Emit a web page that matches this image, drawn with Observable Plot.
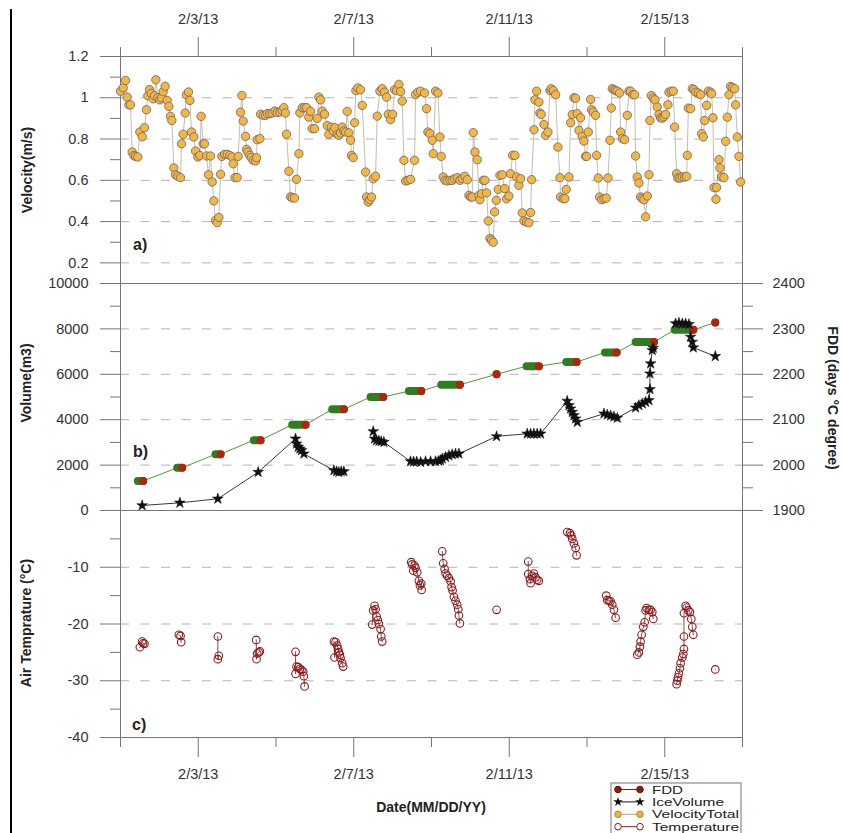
<!DOCTYPE html>
<html><head><meta charset="utf-8">
<script src="https://cdn.jsdelivr.net/npm/d3@7"></script>
<script src="https://cdn.jsdelivr.net/npm/@observablehq/plot@0.6"></script>
<style>
body{margin:0;background:#fff;font-family:"Liberation Sans",Arial,sans-serif;}
#wrap{position:relative;width:842px;height:833px;overflow:hidden;background:#fff;}
.panel{position:absolute;left:0;}
.panel svg{overflow:visible;display:block;}
.lbl{position:absolute;font-weight:bold;font-size:14px;color:#222;white-space:nowrap;transform:translate(-50%,-50%);}
.pl{position:absolute;font-weight:bold;font-size:16px;color:#222;transform:translateY(-50%);}
</style></head><body><div id="wrap"></div>
<script>
// ---------- data (days = fractional day of February 2013) ----------
const velocityDays = [
1.000,1.069,1.129,1.172,1.214,1.257,1.300,1.343,1.386,1.446,
1.497,1.557,1.617,1.669,1.703,1.746,1.789,1.840,1.875,1.909,
1.961,2.012,2.055,2.098,2.149,2.201,2.244,2.286,2.321,2.372,
2.415,2.475,2.544,2.569,2.612,2.664,2.698,2.750,2.784,2.827,
2.887,2.930,2.990,3.041,3.075,3.127,3.161,3.213,3.264,3.316,
3.358,3.401,3.444,3.487,3.530,3.573,3.607,3.676,3.744,3.813,
3.873,3.899,3.942,4.002,4.027,4.087,4.122,4.156,4.216,4.242,
4.276,4.328,4.362,4.413,4.473,4.499,4.516,4.585,4.602,4.671,
4.731,4.774,4.842,4.902,4.971,5.031,5.099,5.159,5.202,5.245,
5.271,5.331,5.374,5.417,5.477,5.528,5.588,5.614,5.674,5.734,
5.786,5.846,5.889,5.931,5.991,6.060,6.103,6.146,6.189,6.249,
6.317,6.360,6.420,6.472,6.515,6.575,6.618,6.660,6.703,6.746,
6.789,6.832,6.875,6.918,6.943,6.986,7.021,7.055,7.106,7.175,
7.218,7.304,7.329,7.372,7.415,7.458,7.501,7.561,7.604,7.673,
7.732,7.792,7.844,7.887,7.947,7.998,8.050,8.101,8.161,8.204,
8.247,8.290,8.333,8.393,8.461,8.564,8.590,8.650,8.719,8.822,
8.873,8.907,8.959,9.019,9.045,9.105,9.165,9.216,9.250,9.302,
9.345,9.405,9.473,9.533,9.593,9.662,9.731,9.791,9.859,9.919,
9.962,10.005,10.048,10.074,10.117,10.177,10.220,10.245,10.288,10.331,
10.374,10.417,10.460,10.503,10.546,10.588,10.623,10.666,10.717,10.760,
10.820,10.880,10.931,10.991,11.034,11.086,11.146,11.189,11.249,11.292,
11.335,11.377,11.446,11.506,11.549,11.575,11.635,11.660,11.703,11.763,
11.789,11.823,11.892,11.935,11.995,12.046,12.081,12.132,12.192,12.252,
12.304,12.321,12.389,12.432,12.467,12.535,12.578,12.621,12.664,12.707,
12.750,12.793,12.835,12.878,12.921,12.964,12.990,13.033,13.093,13.118,
13.161,13.221,13.247,13.290,13.324,13.376,13.436,13.496,13.539,13.590,
13.624,13.650,13.693,13.736,13.779,13.839,13.865,13.907,13.967,14.036,
14.079,14.122,14.182,14.225,14.250,14.293,14.336,14.379,14.422,14.465,
14.508,14.551,14.593,14.619,14.653,14.705,14.748,14.808,14.851,14.894,
14.937,14.979,15.022,15.082,15.108,15.168,15.220,15.254,15.305,15.340,
15.391,15.451,15.511,15.563,15.580,15.606,15.666,15.709,15.752,15.795,
15.863,15.923,15.949,15.992,16.026,16.078,16.121,16.181,16.206,16.240,
16.266,16.317,16.334,16.395,16.420,16.463,16.523,16.566,16.609,16.652,
16.695,16.738,16.798,16.823,16.866,16.909,16.952];
const velocityValues = [
1.032,1.048,1.084,1.003,0.966,0.966,0.737,0.720,0.716,0.713,
0.834,0.811,0.855,0.942,1.010,1.040,1.021,0.995,1.010,1.087,
1.000,0.990,1.000,1.030,1.056,0.987,0.958,0.910,0.890,0.660,
0.627,0.620,0.613,0.777,0.823,0.926,1.015,1.028,0.987,0.834,
0.810,0.742,0.713,0.720,0.910,0.777,0.777,0.718,0.627,0.718,
0.592,0.500,0.406,0.395,0.420,0.629,0.716,0.726,0.726,0.721,
0.713,0.680,0.613,0.613,0.716,0.930,1.011,0.887,0.813,0.750,
0.737,0.721,0.710,0.697,0.694,0.710,0.797,0.802,0.920,0.915,
0.915,0.923,0.923,0.926,0.936,0.929,0.931,0.939,0.952,0.926,
0.823,0.644,0.520,0.515,0.514,0.605,0.729,0.927,0.952,0.952,
0.952,0.906,0.934,0.850,0.850,0.900,1.003,0.990,0.935,0.920,
0.865,0.823,0.858,0.839,0.855,0.823,0.818,0.829,0.858,0.839,
0.834,0.934,0.830,0.794,0.720,0.710,0.879,1.035,1.048,1.039,
0.963,0.640,0.519,0.495,0.506,0.519,0.608,0.620,0.911,1.032,
1.044,1.027,1.003,0.920,0.894,0.920,1.039,1.035,1.065,1.030,
0.984,0.697,0.597,0.600,0.605,0.697,1.016,1.027,1.032,1.023,
0.947,0.834,0.826,0.794,0.729,1.032,1.023,0.810,0.716,0.616,
0.600,0.597,0.600,0.600,0.608,0.613,0.600,0.608,0.620,0.603,
0.527,0.519,0.519,0.831,0.737,0.700,0.527,0.506,0.535,0.600,
0.600,0.539,0.403,0.318,0.310,0.300,0.447,0.503,0.556,0.624,
0.627,0.560,0.510,0.524,0.632,0.721,0.721,0.616,0.576,0.608,
0.442,0.403,0.398,0.394,0.444,0.603,0.845,0.990,1.032,0.979,
0.926,0.919,0.871,0.818,0.834,1.035,1.044,1.035,1.015,0.761,
0.613,0.519,0.511,0.511,0.556,0.616,0.879,0.919,1.000,0.998,
0.923,0.842,0.903,0.813,0.790,0.716,0.716,0.834,0.992,0.942,
0.931,0.915,0.721,0.611,0.519,0.506,0.511,0.514,0.611,0.794,
0.950,1.044,1.039,1.035,1.032,1.023,0.834,0.802,0.797,0.915,
1.032,1.032,1.015,1.015,0.718,0.616,0.587,0.519,0.511,0.506,
0.423,0.524,0.627,0.890,1.011,0.998,0.990,0.955,0.919,0.903,
0.901,0.908,0.919,0.966,1.027,1.032,1.032,0.858,0.632,0.611,
0.611,0.616,0.616,0.619,0.721,0.950,0.947,1.044,1.039,1.027,
1.023,1.015,0.826,0.810,0.890,0.963,1.032,1.027,1.019,0.903,
0.565,0.508,0.565,0.700,0.660,0.616,0.613,0.789,0.906,1.015,
1.055,1.050,1.044,0.966,0.810,0.716,0.592];

// FDD clusters (start day, end day, FDD value)
const fddStart  = [1.446,2.458,3.444,4.430,5.417,6.446,7.432,8.418,9.250,10.674,11.446,12.467,13.461,14.250,15.254,16.300];
const fddEnd    = [1.583,2.586,3.573,4.602,5.760,6.746,7.758,8.736,9.731,10.674,11.763,12.732,13.761,14.722,15.734,16.300];
const fddValues = [1965,1994,2024,2055,2089,2123,2150,2163,2177,2200,2218,2227,2248,2271,2298,2314];

// Ice volume (null = gap in the record)
const iceDays = [1.557,2.527,3.504,4.542,5.503,5.528,5.571,5.614,5.657,5.717,6.489,6.557,6.618,6.678,6.746,null,
7.501,7.535,7.587,7.647,7.707,7.775,8.461,8.540,8.620,8.720,8.847,8.976,9.105,9.190,9.233,9.276,9.362,9.448,9.533,9.619,9.705,
10.674,11.463,11.549,11.635,11.720,11.806,12.490,12.535,12.578,12.621,12.664,12.707,12.750,13.436,13.521,13.607,13.693,13.779,
14.250,14.336,14.422,14.508,14.593,14.619,14.619,14.636,14.679,14.705,null,
15.279,15.365,15.451,15.537,15.623,15.666,15.709,15.734,16.300];
const iceValues = [221,338,515,1691,3162,2941,2800,2721,2650,2500,1765,1720,1690,1720,1720,null,
3485,3162,3088,3060,3044,3015,2162,2150,2150,2132,2162,2162,2162,2180,2206,2280,2353,2420,2471,2500,2500,
3265,3382,3382,3382,3382,3382,4824,4632,4485,4338,4191,4044,3897,4265,4220,4176,4132,4074,
4529,4632,4706,4780,4853,5338,6029,6470,7059,7162,null,
8235,8265,8235,8235,8206,7647,7426,7176,6794];

// Air temperature (null = gap)
const tempDays = [
1.497,1.557,1.583,1.617,null,
2.501,2.544,2.561,null,
3.504,3.504,3.530,null,
4.491,4.499,4.516,4.559,4.585,null,
5.503,5.503,5.528,5.571,5.614,5.657,5.700,5.717,5.734,null,
6.489,6.506,6.532,6.575,6.600,6.618,6.643,6.660,6.703,6.729,null,
7.475,7.501,7.535,7.561,7.587,7.621,7.647,7.690,7.707,7.732,null,
8.479,8.505,8.530,8.564,8.590,8.633,8.676,8.702,8.736,8.745,null,
9.276,9.302,9.336,9.362,9.405,9.448,9.491,9.516,9.542,9.576,9.619,9.662,9.688,9.705,9.731,null,
10.674,null,
11.489,11.489,11.532,11.549,11.592,11.635,11.678,11.720,11.763,null,
12.492,12.561,12.595,12.621,12.664,12.707,12.732,null,
13.496,13.521,13.564,13.607,13.650,13.693,13.736,null,
14.293,14.336,14.362,14.379,14.405,14.448,14.482,14.508,14.534,14.593,14.636,14.679,14.705,null,
15.305,15.322,15.340,15.365,15.391,15.408,15.451,15.477,15.494,15.494,15.494,15.537,15.563,15.606,15.649,15.683,15.709,15.734,null,
16.300];
const tempValues = [
-24.1,-23.1,-23.4,-23.5,null,
-21.9,-22.1,-23.2,null,
-22.2,-26.2,-25.6,null,
-22.8,-26.2,-25.2,-25.0,-24.8,null,
-24.9,-28.8,-27.5,-27.6,-27.9,-28.1,-28.4,-29.2,-31.0,null,
-23.1,-25.9,-23.2,-23.8,-24.4,-25.0,-25.4,-26.0,-26.9,-27.5,null,
-20.1,-17.6,-16.8,-17.4,-18.7,-19.3,-20.0,-20.9,-22.2,-23.1,null,
-9.1,-9.5,-10.6,-9.7,-10.1,-10.9,-12.4,-13.2,-12.9,-14.0,null,
-7.2,-9.3,-10.3,-11.1,-11.5,-11.9,-12.5,-13.5,-14.1,-15.2,-15.9,-16.6,-17.4,-18.5,-19.9,null,
-17.5,null,
-9.0,-11.2,-12.1,-12.8,-11.5,-11.1,-11.8,-12.2,-12.4,null,
-3.8,-4.0,-4.4,-5.0,-5.8,-6.6,-7.9,null,
-15.0,-15.8,-15.9,-16.0,-16.6,-17.5,-18.9,null,
-25.4,-25.0,-24.0,-23.1,-21.9,-20.5,-19.7,-17.6,-17.2,-17.5,-17.5,-17.9,-19.1,null,
-30.6,-30.0,-29.4,-28.7,-27.8,-26.9,-25.9,-25.3,-24.4,-22.2,-18.1,-16.8,-17.1,-17.6,-17.9,-19.1,-20.5,-21.9,null,
-28.0];

// ticks
const xDomainDays = [1, 17];
const majorTickDays = [3, 7, 11, 15];
const minorTickDays = [1, 5, 9, 13, 17];
const velocityTicks = [0.2, 0.4, 0.6, 0.8, 1.0, 1.2];
const velocityMinor = [0.3, 0.5, 0.7, 0.9, 1.1];
const velocityGrid = [0.2, 0.4, 0.6, 0.8, 1.0];
const volumeTicks = [0, 2000, 4000, 6000, 8000, 10000];
const volumeMinor = [1000, 3000, 5000, 7000, 9000];
const volumeGrid = [2000, 4000, 6000, 8000];
const fddTicks = [1900, 2000, 2100, 2200, 2300, 2400];
const fddMinor = [1950, 2050, 2150, 2250, 2350];
const fddRange = [1900, 2400];
const tempTicks = [-40, -30, -20, -10];
const tempMinor = [-35, -25, -15, -5];
const tempGrid = [-30, -20, -10];

// ---------- build ----------
const T0 = Date.UTC(2013, 1, 0);
const toDate = d => d == null ? null : new Date(T0 + d * 864e5);
const fmt = d3.utcFormat("%-m/%-d/%y");
const W = 842, ML = 120, MR = 100;
const FONT = '"Liberation Sans", Arial, sans-serif';
const frameColor = "#767676", tickColor = "#767676", textColor = "#333";
const gridStyle = {stroke: "#b4b4b4", strokeWidth: 1, strokeDasharray: "9,11.5"};
const baseStyle = {overflow: "visible", fontFamily: FONT, fontSize: "14.5px", color: textColor, background: "transparent"};
const xScale = {type: "utc", domain: xDomainDays.map(toDate)};
// FDD drawn against the volume axis: linear map of FDD range onto 0..10000
const fddToVol = f => (f - fddRange[0]) / (fddRange[1] - fddRange[0]) * 10000;
const volToFdd = v => Math.round(fddRange[0] + v / 10000 * (fddRange[1] - fddRange[0]));

const velData = velocityDays.map((d, i) => ({date: toDate(d), v: velocityValues[i]}));
const iceData = iceDays.map((d, i) => ({date: toDate(d), v: iceValues[i]}));
const tempData = tempDays.map((d, i) => ({date: toDate(d), v: tempValues[i]}));
const fddClusters = fddValues.map((f, i) => ({s: toDate(fddStart[i]), e: toDate(fddEnd[i]), y: fddToVol(f)}));
const fddPath = fddClusters.flatMap(c => [{date: c.s, y: c.y}, {date: c.e, y: c.y}]);

const yAxes = (major, minor, fmtFn) => [
  Plot.axisY({ticks: major, tickSize: 20, tickPadding: 12, tickFormat: fmtFn, stroke: tickColor, fill: textColor, label: null}),
  Plot.axisY({ticks: minor, tickSize: 10, tickFormat: () => "", stroke: tickColor, label: null})
];

const plotA = Plot.plot({
  width: W, height: 283, marginLeft: ML, marginRight: MR, marginTop: 56, marginBottom: 0,
  x: xScale, y: {domain: [0.1, 1.2]}, style: baseStyle,
  marks: [
    Plot.ruleY(velocityGrid, gridStyle),
    Plot.frame({stroke: frameColor}),
    ...yAxes(velocityTicks, velocityMinor, d => String(+d.toFixed(1))),
    Plot.axisX({anchor: "top", ticks: majorTickDays.map(toDate), tickSize: 20, tickPadding: 13, tickFormat: fmt, stroke: tickColor, fill: textColor, label: null}),
    Plot.axisX({anchor: "top", ticks: minorTickDays.map(toDate), tickSize: 10, tickFormat: () => "", stroke: tickColor, label: null}),
    Plot.line(velData, {x: "date", y: "v", stroke: "#c2bfae", strokeWidth: 1}),
    Plot.dot(velData, {x: "date", y: "v", r: 4.2, fill: "#f2b83e", stroke: "#6f5d7a", strokeWidth: 0.8})
  ]
});

const plotB = Plot.plot({
  width: W, height: 227, marginLeft: ML, marginRight: MR, marginTop: 0, marginBottom: 0,
  x: {...xScale, axis: null}, y: {domain: [0, 10000]}, style: baseStyle,
  marks: [
    Plot.ruleY(volumeGrid, gridStyle),
    Plot.frame({stroke: frameColor}),
    ...yAxes(volumeTicks, volumeMinor, d => String(d)),
    Plot.axisY({anchor: "right", ticks: fddTicks.map(fddToVol), tickSize: 20, tickPadding: 10, tickFormat: v => String(volToFdd(v)), stroke: tickColor, fill: textColor, label: null}),
    Plot.axisY({anchor: "right", ticks: fddMinor.map(fddToVol), tickSize: 10, tickFormat: () => "", stroke: tickColor, label: null}),
    Plot.line(fddPath, {x: "date", y: "y", stroke: "#4f9a3c", strokeWidth: 1}),
    Plot.link(fddClusters, {x1: "s", x2: "e", y1: "y", y2: "y", stroke: "#2f7d20", strokeWidth: 8, strokeLinecap: "round"}),
    Plot.dot(fddClusters, {x: "e", y: "y", r: 4, fill: "#b3230e", stroke: "none"}),
    Plot.line(iceData, {x: "date", y: "v", stroke: "#3a3a3a", strokeWidth: 1}),
    Plot.dot(iceData, {x: "date", y: "v", symbol: "star", r: 3.4, fill: "#111", stroke: "#111", strokeWidth: 0.5})
  ]
});

const plotC = Plot.plot({
  width: W, height: 323, marginLeft: ML, marginRight: MR, marginTop: 0, marginBottom: 96,
  x: xScale, y: {domain: [-40, 0]}, style: baseStyle,
  marks: [
    Plot.ruleY(tempGrid, gridStyle),
    Plot.frame({stroke: frameColor}),
    ...yAxes(tempTicks, tempMinor, d => String(d)),
    Plot.axisX({anchor: "bottom", ticks: majorTickDays.map(toDate), tickSize: 20, tickPadding: 11, tickFormat: fmt, stroke: tickColor, fill: textColor, label: null}),
    Plot.axisX({anchor: "bottom", ticks: minorTickDays.map(toDate), tickSize: 10, tickFormat: () => "", stroke: tickColor, label: null}),
    Plot.line(tempData, {x: "date", y: "v", stroke: "#7d3a3a", strokeWidth: 0.9}),
    Plot.dot(tempData, {x: "date", y: "v", r: 3.8, fill: "none", stroke: "#8e1b1b", strokeWidth: 1.1})
  ]
});

const wrap = document.getElementById("wrap");
function place(el, top) { const d = document.createElement("div"); d.className = "panel"; d.style.top = top + "px"; d.appendChild(el); wrap.appendChild(d); }
place(plotA, 0); place(plotB, 283); place(plotC, 510);

function label(text, x, y, rot, cls) {
  const d = document.createElement("div");
  d.className = cls || "lbl"; d.textContent = text;
  d.style.left = x + "px"; d.style.top = y + "px";
  if (rot) d.style.transform = `translate(-50%,-50%) rotate(${rot}deg)`;
  wrap.appendChild(d);
}
label("Velocity(m/s)", 27, 170, -90);
label("Volume(m3)", 26, 383, -90);
label("Air Temprature (°C)", 26, 623, -90);
label("FDD (days °C degree)", 833, 398, 90);
label("Date(MM/DD/YY)", 431, 807, 0);
label("a)", 133, 245, 0, "pl");
label("b)", 133, 452, 0, "pl");
label("c)", 132, 725, 0, "pl");

// left border line
const bl = document.createElement("div");
Object.assign(bl.style, {position: "absolute", left: "10px", top: "9px", width: "2px", height: "830px", background: "#000"});
wrap.appendChild(bl);

// legend
const legendNames = ["FDD", "IceVolume", "VelocityTotal", "Temperature"];
const legendWidths = [31, 72, 87, 87];
const ns = "http://www.w3.org/2000/svg";
const lg = document.createElementNS(ns, "svg");
lg.setAttribute("width", 140); lg.setAttribute("height", 52);
Object.assign(lg.style, {position: "absolute", left: "607px", top: "781px", overflow: "visible"});
const mk = (tag, attrs) => { const e = document.createElementNS(ns, tag); for (const k in attrs) e.setAttribute(k, attrs[k]); lg.appendChild(e); return e; };
mk("rect", {x: 4, y: 2, width: 130, height: 70, fill: "#fff", stroke: "#8a8a8a", "stroke-width": 1.2});
const starPath = d3.symbol(d3.symbolStar, 28)();
legendNames.forEach((name, i) => {
  const cy = 8.5 + i * 12.4;
  const styles = [
    {line: "#7a1a0e", fill: "#8b1c0c", stroke: "#6a1208"},
    {line: "#111", fill: "#111", stroke: "#111"},
    {line: "#c9a25a", fill: "#e9b444", stroke: "#b98a3a"},
    {line: "#8e1b1b", fill: "#fff", stroke: "#8e1b1b"}][i];
  mk("line", {x1: 11, x2: 33, y1: cy, y2: cy, stroke: styles.line, "stroke-width": 1});
  [11, 33].forEach(cx => {
    if (i === 1) mk("path", {d: starPath, transform: `translate(${cx},${cy})`, fill: "#111"});
    else mk("circle", {cx, cy, r: 3.3, fill: styles.fill, stroke: styles.stroke, "stroke-width": 1});
  });
  const t = mk("text", {x: 45, y: cy + 4, "font-size": 11.5, "font-family": FONT, fill: "#222", textLength: legendWidths[i], lengthAdjust: "spacingAndGlyphs"});
  t.textContent = name;
});
wrap.appendChild(lg);
</script></body></html>
